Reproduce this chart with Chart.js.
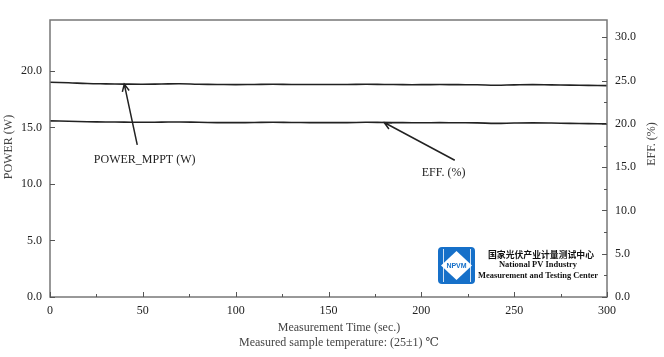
<!DOCTYPE html>
<html><head><meta charset="utf-8">
<script src="https://cdn.jsdelivr.net/npm/chart.js@4.4.1/dist/chart.umd.min.js"></script>
<style>html,body{margin:0;padding:0;background:#fff;}#wrap{width:664px;height:357px;}</style>
</head><body><div id="wrap"><canvas id="c" width="664" height="357"></canvas></div>
<script>
// ---- data ----
const timeSec    = [0,10,20,30,40,50,60,70,80,90,100,110,120,130,140,150,160,170,180,190,200,210,220,230,240,250,260,270,280,290,300];
const powerMppt  = [19.00,18.95,18.88,18.85,18.83,18.82,18.84,18.86,18.82,18.80,18.78,18.80,18.82,18.80,18.80,18.80,18.79,18.82,18.80,18.78,18.78,18.79,18.78,18.77,18.73,18.76,18.78,18.76,18.74,18.72,18.70];
const efficiency = [20.35,20.30,20.25,20.22,20.20,20.18,20.20,20.22,20.18,20.15,20.14,20.16,20.18,20.16,20.15,20.15,20.14,20.18,20.16,20.14,20.13,20.14,20.13,20.12,20.06,20.10,20.12,20.10,20.06,20.03,20.00];
const xTicks     = [0,50,100,150,200,250,300];
const xMinorTicks= [25,75,125,175,225,275];
const powerTicks = [0,5,10,15,20];
const effTicks   = [0,5,10,15,20,25,30];
const effMinorTicks = [2.5,7.5,12.5,17.5,22.5,27.5];
const xTitle     = 'Measurement Time (sec.)';
const xSubtitle  = 'Measured sample temperature: (25±1) ℃';
const powerTitle = 'POWER (W)';
const effTitle   = 'EFF. (%)';
const powerLabel = 'POWER_MPPT (W)';
const effLabel   = 'EFF. (%)';
const logoLines  = ['国家光伏产业计量测试中心','National PV Industry','Measurement and Testing Center'];
// annotation anchors in data units: [tipX, tipY, tailX, tailY, labelX, labelY]
const powerArrow = [40, 18.83, 47, 13.45, 51, 12.1];
const effArrow   = [180, 20.16, 218, 15.8, 212, 14.3];

const SERIF = '"Liberation Serif", "DejaVu Serif", serif';
const tickFont = {family: SERIF, size: 12};

const overlay = {
  id: 'overlay',
  afterDraw(chart) {
    const ctx = chart.ctx, a = chart.chartArea;
    const sx = chart.scales.x, sy = chart.scales.y, sy1 = chart.scales.y1;
    ctx.save();
    // frame
    ctx.strokeStyle = '#777'; ctx.lineWidth = 1.5;
    ctx.strokeRect(a.left, a.top, a.right - a.left, a.bottom - a.top);
    // ticks (inward)
    ctx.strokeStyle = '#555'; ctx.lineWidth = 1;
    ctx.beginPath();
    xTicks.forEach(v => { const x = Math.round(sx.getPixelForValue(v)) + 0.5; ctx.moveTo(x, a.bottom); ctx.lineTo(x, a.bottom - 5); });
    xMinorTicks.forEach(v => { const x = Math.round(sx.getPixelForValue(v)) + 0.5; ctx.moveTo(x, a.bottom); ctx.lineTo(x, a.bottom - 3); });
    powerTicks.forEach(v => { const y = Math.round(sy.getPixelForValue(v)) + 0.5; ctx.moveTo(a.left, y); ctx.lineTo(a.left + 5, y); });
    effTicks.forEach(v => { const y = Math.round(sy1.getPixelForValue(v)) + 0.5; ctx.moveTo(a.right, y); ctx.lineTo(a.right - 5, y); });
    effMinorTicks.forEach(v => { const y = Math.round(sy1.getPixelForValue(v)) + 0.5; ctx.moveTo(a.right, y); ctx.lineTo(a.right - 3, y); });
    ctx.stroke();

    // axis titles
    ctx.fillStyle = '#444';
    ctx.font = '12px ' + SERIF;
    ctx.textAlign = 'center'; ctx.textBaseline = 'middle';
    ctx.fillText(xTitle, 339, 328);
    ctx.fillText(xSubtitle, 339, 343);
    ctx.save(); ctx.translate(9, 147); ctx.rotate(-Math.PI / 2); ctx.fillText(powerTitle, 0, 0); ctx.restore();
    ctx.save(); ctx.translate(652, 144); ctx.rotate(-Math.PI / 2); ctx.fillText(effTitle, 0, 0); ctx.restore();

    // arrows
    function arrow(spec, scaleY, label) {
      const tx = sx.getPixelForValue(spec[0]), ty = scaleY.getPixelForValue(spec[1]);
      const bx = sx.getPixelForValue(spec[2]), by = scaleY.getPixelForValue(spec[3]);
      const lx = sx.getPixelForValue(spec[4]), ly = scaleY.getPixelForValue(spec[5]);
      ctx.strokeStyle = '#222'; ctx.lineWidth = 1.5;
      ctx.beginPath(); ctx.moveTo(bx, by); ctx.lineTo(tx, ty);
      const ang = Math.atan2(by - ty, bx - tx), L = 8, h = 0.45;
      ctx.moveTo(tx + L * Math.cos(ang + h), ty + L * Math.sin(ang + h)); ctx.lineTo(tx, ty);
      ctx.lineTo(tx + L * Math.cos(ang - h), ty + L * Math.sin(ang - h));
      ctx.stroke();
      ctx.fillStyle = '#222'; ctx.font = '12px ' + SERIF;
      ctx.fillText(label, lx, ly);
    }
    arrow(powerArrow, sy, powerLabel);
    arrow(effArrow, sy1, effLabel);

    // logo
    const L0 = 438, T0 = 247, S = 37;
    ctx.fillStyle = '#1670c9';
    ctx.beginPath();
    if (ctx.roundRect) ctx.roundRect(L0, T0, S, S, 4); else ctx.rect(L0, T0, S, S);
    ctx.fill();
    ctx.strokeStyle = 'rgba(255,255,255,0.8)'; ctx.lineWidth = 1;
    ctx.beginPath(); ctx.moveTo(L0 + 5.5, T0 + 2); ctx.lineTo(L0 + 5.5, T0 + S - 2);
    ctx.moveTo(L0 + S - 4.5, T0 + 2); ctx.lineTo(L0 + S - 4.5, T0 + S - 2); ctx.stroke();
    const cx = L0 + S / 2, cy = T0 + S / 2;
    ctx.fillStyle = '#fff';
    ctx.beginPath(); ctx.moveTo(cx, T0 + 4); ctx.lineTo(L0 + S - 3, cy); ctx.lineTo(cx, T0 + S - 4); ctx.lineTo(L0 + 3, cy); ctx.closePath(); ctx.fill();
    ctx.fillStyle = '#1670c9'; ctx.font = 'bold 7px "Liberation Sans", sans-serif';
    ctx.fillText('NPVM', cx, cy + 0.5, 26);
    ctx.fillStyle = '#111';
    ctx.font = 'bold 9px "Noto Sans CJK SC", sans-serif';
    ctx.fillText(logoLines[0], 541, 255, 106);
    ctx.font = 'bold 9px ' + SERIF;
    ctx.fillText(logoLines[1], 538, 265, 78);
    ctx.fillText(logoLines[2], 538, 276, 120);
    ctx.restore();
  }
};

new Chart(document.getElementById('c'), {
  type: 'line',
  data: {
    datasets: [
      { label: powerLabel, data: timeSec.map((t, i) => ({x: t, y: powerMppt[i]})), yAxisID: 'y',
        borderColor: '#222', borderWidth: 1.6, pointRadius: 0, tension: 0.4, fill: false },
      { label: effLabel, data: timeSec.map((t, i) => ({x: t, y: efficiency[i]})), yAxisID: 'y1',
        borderColor: '#222', borderWidth: 1.6, pointRadius: 0, tension: 0.4, fill: false }
    ]
  },
  options: {
    responsive: false, animation: false, devicePixelRatio: 1,
    layout: { padding: { top: 20, left: 0, right: 0, bottom: 0 } },
    plugins: { legend: { display: false }, tooltip: { enabled: false } },
    scales: {
      x: { type: 'linear', min: 0, max: 300,
        afterBuildTicks: s => { s.ticks = xTicks.map(v => ({value: v})); },
        afterFit: s => { s.height = 60; },
        grid: { display: false, drawTicks: false }, border: { display: false },
        ticks: { font: tickFont, color: '#222', padding: 7, maxRotation: 0 } },
      y: { type: 'linear', position: 'left', min: 0, max: 24.5,
        afterBuildTicks: s => { s.ticks = powerTicks.map(v => ({value: v})); },
        afterFit: s => { s.width = 50; },
        grid: { display: false, drawTicks: false }, border: { display: false },
        ticks: { font: tickFont, color: '#222', padding: 8, callback: v => Number(v).toFixed(1) } },
      y1: { type: 'linear', position: 'right', min: 0, max: 32,
        afterBuildTicks: s => { s.ticks = effTicks.map(v => ({value: v})); },
        afterFit: s => { s.width = 57; },
        grid: { display: false, drawTicks: false }, border: { display: false },
        ticks: { font: tickFont, color: '#222', padding: 8, callback: v => Number(v).toFixed(1) } }
    }
  },
  plugins: [overlay]
});
</script>
</body></html>
